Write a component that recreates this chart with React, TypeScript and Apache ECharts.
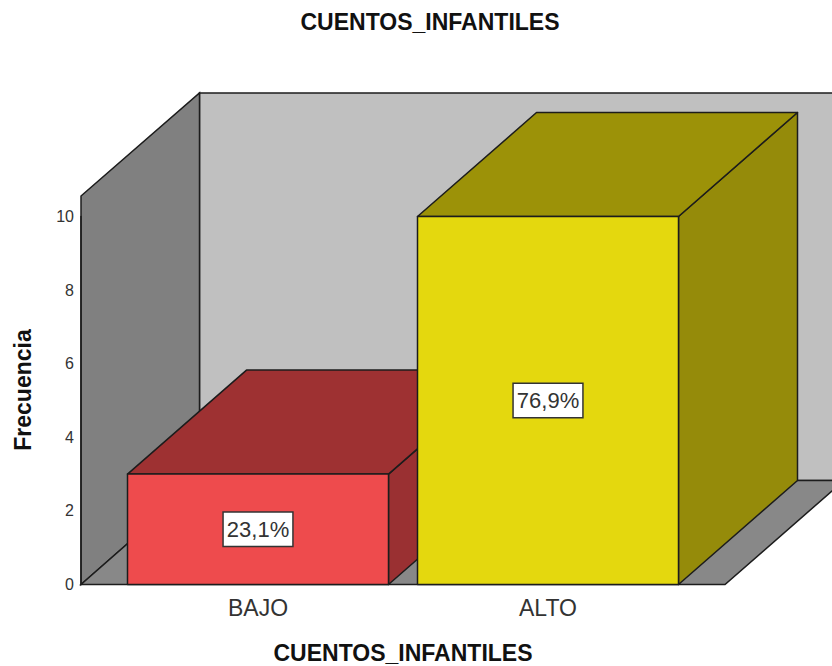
import React, { useEffect, useRef } from "react";
import * as echarts from "echarts";

const categories = ["BAJO", "ALTO"];
const frequencies = [3, 10];
const percentLabels = ["23,1%", "76,9%"];
const yTicks = { min: 0, max: 10, interval: 2 };

const frontColors = ["#EE4B4D", "#E4D80E"];
const topColors = ["#9E3132", "#9C9208"];
const sideColors = ["#9A3032", "#958B0A"];

const DX = 119;
const DY = 104;
const EDGE = "#1c1c1c";
const FONT = '"Liberation Sans", Arial, sans-serif';

export default function App() {
  const ref = useRef<HTMLDivElement>(null);
  useEffect(() => {
    document.body.style.margin = "0";
    const chart = echarts.init(ref.current!, undefined, { renderer: "svg" });
    const left = 81;
    const base = 584.5;
    const wallStyle = (fill: string) => ({ fill, stroke: EDGE, lineWidth: 1.5 });
    chart.setOption({
      animation: false,
      backgroundColor: "#ffffff",
      title: {
        text: "CUENTOS_INFANTILES",
        left: 425,
        top: 5,
        textAlign: "center",
        textStyle: { fontFamily: FONT, fontSize: 23, fontWeight: "bold", color: "#111" },
      },
      grid: { left: 113, width: 580, top: 216.5, height: 368, outerBoundsMode: "none" },
      xAxis: {
        type: "category",
        data: categories,
        axisLine: { show: false },
        axisTick: { show: false },
        axisLabel: { fontFamily: FONT, fontSize: 23, color: "#333", margin: 12 },
        name: "CUENTOS_INFANTILES",
        nameLocation: "middle",
        nameGap: 57,
        nameTextStyle: { fontFamily: FONT, fontSize: 23, fontWeight: "bold", color: "#111" },
      },
      yAxis: {
        type: "value",
        offset: 32,
        ...yTicks,
        axisLine: { show: true, lineStyle: { color: EDGE, width: 1.5 } },
        axisTick: { show: false },
        splitLine: { show: false },
        axisLabel: { fontFamily: FONT, fontSize: 16, color: "#333", margin: 7, padding: [2, 0, 0, 0] },
      },
      graphic: [
        { type: "polygon", z: 0, silent: true, shape: { points: [[199.5, 93], [860, 93], [860, base - DY], [199.5, base - DY]] }, style: wallStyle("#C0C0C0") },
        { type: "polygon", z: 0, silent: true, shape: { points: [[left, 196], [199.5, 93], [199.5, base - DY], [left, base]] }, style: wallStyle("#808080") },
        { type: "polygon", z: 0, silent: true, shape: { points: [[left, base], [725, base], [844, base - DY], [199.5, base - DY]] }, style: wallStyle("#888888") },
        {
          type: "text",
          z: 10,
          x: 23,
          y: 390,
          rotation: Math.PI / 2,
          style: { text: "Frecuencia", font: `bold 23px ${FONT}`, fill: "#111", align: "center", verticalAlign: "middle" },
        },
      ],
      series: [
        {
          type: "custom",
          z: 5,
          clip: false,
          data: frequencies.map((v, i) => [i, v]),
          encode: { x: 0, y: 1 },
          renderItem: (params: any, api: any) => {
            const i = api.value(0);
            const v = api.value(1);
            const [cx, yTop] = api.coord([i, v]);
            const [, yBase] = api.coord([i, 0]);
            const [, yMid] = api.coord([i, v / 2]);
            const w = api.size([1, 0])[0] * 0.9;
            const x0 = cx - w / 2;
            const x1 = cx + w / 2;
            const style = (fill: string) => ({ fill, stroke: EDGE, lineWidth: 1.5, lineJoin: "round" });
            return {
              type: "group",
              children: [
                {
                  type: "polygon",
                  shape: { points: [[x1, yTop], [x1 + DX, yTop - DY], [x1 + DX, yBase - DY], [x1, yBase]] },
                  style: style(sideColors[i]),
                },
                {
                  type: "polygon",
                  shape: { points: [[x0, yTop], [x0 + DX, yTop - DY], [x1 + DX, yTop - DY], [x1, yTop]] },
                  style: style(topColors[i]),
                },
                {
                  type: "rect",
                  shape: { x: x0, y: yTop, width: w, height: yBase - yTop },
                  style: style(frontColors[i]),
                },
                {
                  type: "text",
                  x: cx,
                  y: yMid,
                  style: {
                    text: percentLabels[i],
                    font: `22px ${FONT}`,
                    fill: "#333",
                    align: "center",
                    verticalAlign: "middle",
                    backgroundColor: "#ffffff",
                    borderColor: "#333",
                    borderWidth: 1.5,
                    padding: [6, 3, 5, 3],
                  },
                },
              ],
            };
          },
        },
      ],
    });
    return () => chart.dispose();
  }, []);
  return <div ref={ref} style={{ position: "absolute", left: 0, top: 0, width: 832, height: 666 }} />;
}
